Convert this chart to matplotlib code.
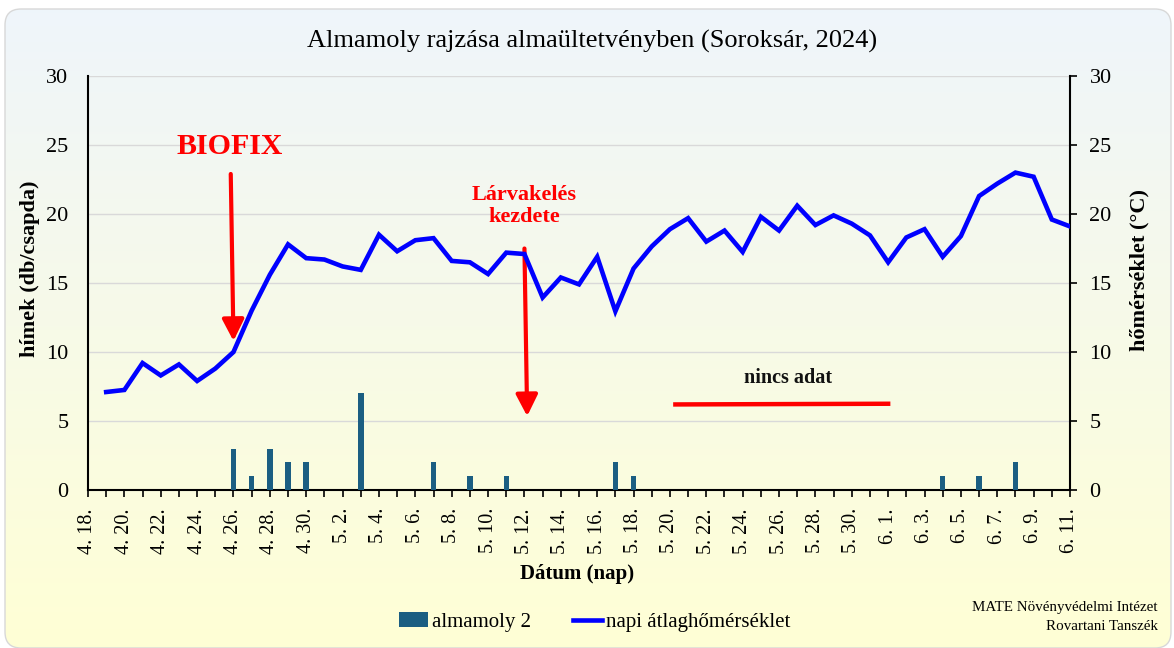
import matplotlib
matplotlib.use('Agg')
import matplotlib.pyplot as plt
import matplotlib.dates as mdates
from matplotlib.patches import FancyBboxPatch
import numpy as np
import pandas as pd

# ---------------- data ----------------
title = "Almamoly rajzása almaültetvényben (Soroksár, 2024)"
temp_start = "2024-04-19"
temps = [7.1, 7.25, 9.2, 8.3, 9.1, 7.9, 8.8, 10.0, 13.0, 15.6, 17.8, 16.8,
         16.7, 16.2, 15.95, 18.5, 17.3, 18.1, 18.25, 16.6, 16.5, 15.65, 17.2,
         17.1, 13.95, 15.4, 14.9, 16.9, 12.95, 16.05, 17.65, 18.9, 19.7, 18.0,
         18.8, 17.25, 19.8, 18.8, 20.6, 19.2, 19.9, 19.3, 18.45, 16.5, 18.3,
         18.9, 16.9, 18.4, 21.3, 22.2, 23.0, 22.7, 19.6, 19.1]
moth_dates = ["2024-04-26", "2024-04-27", "2024-04-28", "2024-04-29",
              "2024-04-30", "2024-05-03", "2024-05-07", "2024-05-09",
              "2024-05-11", "2024-05-17", "2024-05-18", "2024-06-04",
              "2024-06-06", "2024-06-08"]
moth_counts = [3, 1, 3, 2, 2, 7, 2, 1, 1, 2, 1, 1, 1, 2]
axis_start, axis_end = "2024-04-18", "2024-06-11"
no_data_start, no_data_end = "2024-05-20", "2024-06-01"

bar_label = "almamoly 2"
line_label = "napi átlaghőmérséklet"

# ---------------- figure ----------------
W, H = 1174, 648
fig = plt.figure(figsize=(W / 100, H / 100), dpi=100)
fig.patch.set_facecolor('white')
serif = ['Liberation Serif', 'DejaVu Serif']
plt.rcParams['font.family'] = serif

# background rounded panel with gradient
bg = fig.add_axes([0, 0, 1, 1], zorder=-10)
bg.set_xlim(0, W)
bg.set_ylim(H, 0)
bg.axis('off')
top_c = np.array([0.937, 0.961, 0.984])
bot_c = np.array([1.0, 1.0, 0.835])
t = np.linspace(0, 1, 256)[:, None]
grad = top_c[None, :] * (1 - t) + bot_c[None, :] * t
grad = np.repeat(grad[:, None, :], 2, axis=1)
im = bg.imshow(grad, extent=(5, W - 2, H, 9), aspect='auto', zorder=0)
panel = FancyBboxPatch((5, 9), W - 8, H - 9, boxstyle="round,pad=0,rounding_size=16",
                       facecolor='none', edgecolor='#D8D8D8', lw=1.0, zorder=1)
bg.add_patch(panel)
im.set_clip_path(panel)

# main axes
L, R, T, B = 88, 1070, 76, 490
ax = fig.add_axes([L / W, 1 - B / H, (R - L) / W, (B - T) / H])
ax.set_facecolor('none')
ax2 = ax.twinx()

dates_t = pd.date_range(temp_start, periods=len(temps), freq='D')
md = pd.to_datetime(moth_dates)

ax.bar(md, moth_counts, width=0.3, color='#1B5E82', label=bar_label, zorder=3)
ax2.plot(dates_t, temps, color='#0000FF', lw=3.3, label=line_label, zorder=4,
         solid_joinstyle='miter')

x0, x1 = pd.Timestamp(axis_start), pd.Timestamp(axis_end)
for a in (ax, ax2):
    a.set_xlim(x0, x1)
    a.set_ylim(0, 30)
    a.set_yticks(range(0, 31, 5))

ax.grid(axis='y', color='#D9D9D9', lw=1.0, zorder=0)
ax.set_axisbelow(True)
ticks = pd.date_range(axis_start, axis_end, freq='D')
ax.set_xticks(ticks)
labels = [f"{d.month}. {d.day}." if i % 2 == 0 else "" for i, d in enumerate(ticks)]
ax.set_xticklabels(labels, rotation=90, fontsize=14.5)
ax.tick_params(axis='x', direction='out', length=5, width=1.2, pad=8)
ax.tick_params(axis='y', direction='out', length=0, width=1.2, pad=14, labelsize=16)
ax2.tick_params(axis='y', direction='out', length=5, width=1.2, pad=9, labelsize=16)

for a in (ax, ax2):
    a.spines['top'].set_visible(False)
    for s in ('left', 'right', 'bottom'):
        a.spines[s].set_linewidth(1.5)
ax.spines['right'].set_visible(False)
ax2.spines['left'].set_visible(False)
ax2.spines['bottom'].set_visible(False)

ax.set_ylabel("hímek (db/csapda)", fontsize=16, fontweight='bold')
ax2.set_ylabel("hőmérséklet (°C)", fontsize=16, fontweight='bold')
ax.yaxis.set_label_coords((40 - L) / (R - L), (B - 269) / (B - T))
ax2.yaxis.set_label_coords((1129 - L) / (R - L), (B - 270) / (B - T))
ax.set_xlabel("Dátum (nap)", fontsize=15, fontweight='bold')
ax.xaxis.set_label_coords((577 - L) / (R - L), (B - 564) / (B - T))

fig.text(0.5 * (303 + 882) / W, 1 - 41 / H, title, ha='center', va='center', fontsize=19)

# annotations
def day(s, off=0.0):
    return mdates.date2num(pd.Timestamp(s)) + off

red = '#FF0000'
ax2.text(day("2024-04-26", -0.2), 24.9, "BIOFIX", color=red, fontsize=21.5,
         fontweight='bold', ha='center', va='center')
ax2.annotate('', xy=(day("2024-04-26"), 10.8), xytext=(day("2024-04-26", -0.15), 22.9),
             arrowprops=dict(arrowstyle='-|>,head_length=0.65,head_width=0.33',
                             color=red, lw=3, shrinkA=0, shrinkB=0, mutation_scale=20))
ax2.text(day("2024-05-12"), 20.6, "Lárvakelés\nkezdete", color=red, fontsize=16,
         fontweight='bold', ha='center', va='center', linespacing=1.15)
ax2.annotate('', xy=(day("2024-05-12", 0.15), 5.35), xytext=(day("2024-05-12"), 17.5),
             arrowprops=dict(arrowstyle='-|>,head_length=0.65,head_width=0.33',
                             color=red, lw=3, shrinkA=0, shrinkB=0, mutation_scale=20))
ax2.plot([day(no_data_start, 0.3), day(no_data_end)], [6.2, 6.25], color=red, lw=3.2)
ax2.text(day("2024-05-26", 0.5), 8.15, "nincs adat", color='#111111', fontsize=14.5,
         fontweight='bold', ha='center', va='center')

# legend
h1, l1 = ax.get_legend_handles_labels()
h2, l2 = ax2.get_legend_handles_labels()
fig.legend(h1 + h2, l1 + l2, loc='center', bbox_to_anchor=(595 / W, 1 - 622 / H),
           ncol=2, frameon=False, fontsize=15, handlelength=1.4, handletextpad=0.2,
           columnspacing=2.0)

fig.text(1158 / W, 1 - 607 / H, "MATE Növényvédelmi Intézet", ha='right', va='center',
         fontsize=10.8)
fig.text(1158 / W, 1 - 626 / H, "Rovartani Tanszék", ha='right', va='center', fontsize=10.8)

fig.savefig('out.png', dpi=100)
